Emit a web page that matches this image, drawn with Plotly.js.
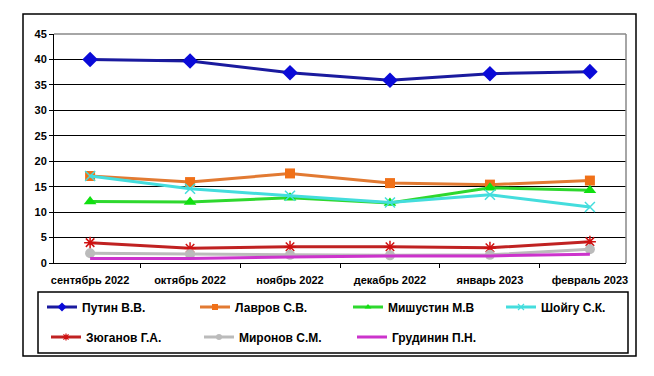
<!DOCTYPE html>
<html><head><meta charset="utf-8">
<script src="https://cdn.plot.ly/plotly-3.0.1.min.js"></script>
<style>html,body{margin:0;padding:0;background:#fff}#chart{width:654px;height:376px}</style>
</head><body><div id="chart"></div>
<script>
const months = ["сентябрь 2022","октябрь 2022","ноябрь 2022","декабрь 2022","январь 2023","февраль 2023"];
const names = ["Путин В.В.","Лавров С.В.","Мишустин М.В","Шойгу С.К.","Зюганов Г.А.","Миронов С.М.","Грудинин П.Н."];
const putin     = [40.0, 39.7, 37.4, 35.9, 37.2, 37.6];
const lavrov    = [17.1, 15.9, 17.6, 15.7, 15.4, 16.2];
const mishustin = [12.1, 12.0, 12.8, 11.8, 14.8, 14.3];
const shoigu    = [17.1, 14.6, 13.2, 11.9, 13.4, 11.0];
const zyuganov  = [4.0, 2.9, 3.2, 3.2, 3.0, 4.2];
const mironov   = [1.9, 1.7, 1.6, 1.5, 1.6, 2.7];
const grudinin  = [0.9, 0.9, 1.2, 1.4, 1.4, 1.7];

const F = "Liberation Sans, Arial, sans-serif";
const styles = [
  {lc: "#1a1a9e", mc: "#0a0ad8", sym: "diamond", size: 12, leg: "legend"},
  {lc: "#e27a32", mc: "#f07018", sym: "square", size: 10, leg: "legend"},
  {lc: "#2ed82e", mc: "#10e010", sym: "triangle-up", size: 11, leg: "legend"},
  {lc: "#44dddd", mc: "#44dddd", sym: "x-thin-open", size: 10, leg: "legend", ml: 1.5},
  {lc: "#c02222", mc: "#d01010", sym: "asterisk-open", size: 10, leg: "legend2", ml: 1.5},
  {lc: "#bbbbbb", mc: "#bbbbbb", sym: "circle", size: 10, leg: "legend2"},
  {lc: "#cc33cc", mc: null, sym: null, size: 0, leg: "legend2"}
];
const series = [putin, lavrov, mishustin, shoigu, zyuganov, mironov, grudinin];
function tr(x, y, name, s, sizeScale, inLegend) {
  const t = {x: x, y: y, name: name, type: "scatter", mode: s.sym ? "lines+markers" : "lines",
    line: {color: s.lc, width: 3}, legend: s.leg, showlegend: inLegend, cliponaxis: false};
  if (s.sym) {
    t.marker = {symbol: s.sym, size: Math.round(s.size * sizeScale), color: s.mc};
    if (s.ml) t.marker.line = {color: s.mc, width: s.ml * (inLegend ? 0.8 : 1)};
  }
  return t;
}
const data = [];
series.forEach((y, i) => data.push(tr(months, y, names[i], styles[i], 1, false)));
series.forEach((y, i) => data.push(tr([null], [null], names[i], styles[i], 0.55, true)));

const W = 572, H = 229, L = 54, T = 34;
const px = v => (v - L) / W;
const py = v => (T + H - v) / H;
const legCommon = {orientation: "h", xanchor: "left", yanchor: "middle", entrywidth: 108, entrywidthmode: "pixels",
  font: {family: F, size: 12, weight: "bold", color: "#000"}, bgcolor: "rgba(0,0,0,0)", borderwidth: 0,
  itemclick: false};
const layout = {
  width: 654, height: 376,
  margin: {l: L, r: 654 - L - W, t: T, b: 376 - T - H},
  paper_bgcolor: "#fff", plot_bgcolor: "#fff",
  font: {family: F, size: 11, color: "#000"},
  showlegend: true,
  legend: Object.assign({x: px(46), y: py(307)}, legCommon),
  legend2: Object.assign({x: px(46), y: py(337)}, legCommon),
  xaxis: {type: "category", categoryarray: months, tickson: "boundaries", ticks: "outside", ticklen: 4, tickcolor: "#000",
    showline: true, linecolor: "#000", linewidth: 1, showgrid: false, fixedrange: true, ticklabelstandoff: 7,
    tickfont: {family: F, size: 11, weight: "bold", color: "#000"}},
  yaxis: {range: [0, 45], dtick: 5, tick0: 0, ticks: "outside", ticklen: 4, tickcolor: "#000",
    showline: true, linecolor: "#000", linewidth: 1, showgrid: true, gridcolor: "#000", gridwidth: 1,
    zeroline: false, fixedrange: true,
    tickfont: {family: F, size: 11, weight: "bold", color: "#000"}},
  shapes: [
    {type: "line", xref: "paper", yref: "paper", x0: 0, x1: 1, y0: 1, y1: 1, line: {color: "#888", width: 1.5}},
    {type: "line", xref: "paper", yref: "paper", x0: 1, x1: 1, y0: 0, y1: 1, line: {color: "#888", width: 1.5}},
    {type: "rect", xref: "paper", yref: "paper", x0: px(23), x1: px(636), y0: py(356), y1: py(14), line: {color: "#000", width: 1.5}},
    {type: "rect", xref: "paper", yref: "paper", x0: px(38), x1: px(628), y0: py(353), y1: py(292), line: {color: "#000", width: 1.5}}
  ]
};
Plotly.newPlot("chart", data, layout, {displayModeBar: false, staticPlot: true});
</script></body></html>
